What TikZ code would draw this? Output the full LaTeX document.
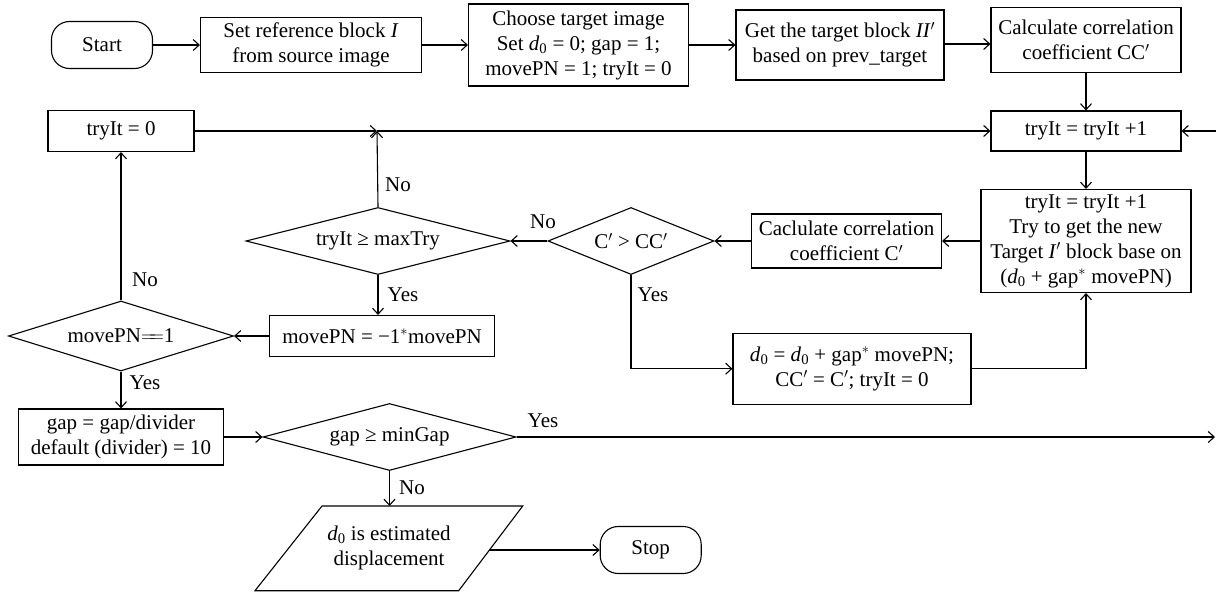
\documentclass[tikz,border=0pt]{standalone}
\usepackage{fontspec}
\setmainfont{Liberation Serif}
\usetikzlibrary{arrows.meta,shapes.geometric}
\begin{document}
\begin{tikzpicture}[x=1pt,y=-1pt,
  every node/.style={font=\fontsize{21}{25}\selectfont, align=center, inner sep=0pt},
  box/.style={draw, line width=1.1pt, rectangle},
  term/.style={draw, line width=1.1pt, rectangle, rounded corners=18pt},
  dia/.style={draw, line width=1.1pt, diamond, aspect=4},
  conn/.style={line width=1.1pt, -{Straight Barb[length=6pt,width=11pt]}},
  plain/.style={line width=1.1pt}]
\fill[white] (0,0) rectangle (1216,594);
\useasboundingbox (0,0) rectangle (1216,594);

% top row
\node[term, minimum width=101pt, minimum height=47pt] (start) at (102,45) {Start};
\node[box, minimum width=221pt, minimum height=55pt] (setref) at (311,45) {Set reference block \textit{I}\\from source image};
\node[box, minimum width=220pt, minimum height=82pt] (choose) at (578.5,45) {Choose target image\\Set \textit{d}\textsubscript{0} = 0; gap = 1;\\movePN = 1; tryIt = 0};
\node[box, minimum width=208pt, minimum height=70pt] (get) at (840,45) {Get the target block \textit{II}$'$\\based on prev\_target};
\node[box, minimum width=190pt, minimum height=65pt] (calc) at (1086,40) {Calculate correlation\\coefficient CC$'$};

% second row
\node[box, minimum width=146pt, minimum height=41pt] (try0) at (121,131) {tryIt = 0};
\node[box, minimum width=190pt, minimum height=40pt] (tryinc) at (1086,131) {tryIt = tryIt +1};
\coordinate (J) at (377,131);
\coordinate (R1) at (1216,131);

% third row
\node[box, minimum width=210pt, minimum height=103pt] (big) at (1086,241) {tryIt = tryIt +1\\Try to get the new\\Target \textit{I}$'$ block base on\\(\textit{d}\textsubscript{0} + gap$^*$ movePN)};
\node[box, minimum width=190pt, minimum height=54pt] (calcC) at (846.5,241) {Caclulate correlation\\coefficient C$'$};
\node[dia, minimum width=166pt, minimum height=67pt] (dC) at (631,241) {C$'$ > CC$'$};
\node[dia, minimum width=264pt, minimum height=67pt] (dmax) at (378,241) {tryIt ≥ maxTry};

% fourth row
\node[dia, minimum width=225pt, minimum height=70pt] (dmove) at (121,336) {movePN$=\!\!=$1};
\node[box, minimum width=225pt, minimum height=41pt] (neg) at (382,336) {movePN = −1$^*$movePN};
\node[box, minimum width=238pt, minimum height=71pt] (dbox) at (852,368.7) {\textit{d}\textsubscript{0} = \textit{d}\textsubscript{0} + gap$^*$ movePN;\\CC$'$ = C$'$; tryIt = 0};

% fifth row
\node[box, minimum width=205pt, minimum height=56pt] (gapbox) at (121,437) {gap = gap/divider\\default (divider) = 10};
\node[dia, minimum width=253pt, minimum height=67pt] (dgap) at (389.5,437) {gap ≥ minGap};
\coordinate (R2) at (1215,437);

% bottom
\draw[plain] (255,590.7) -- (322,506) -- (522.7,506) -- (458.7,590.7) -- cycle;
\node (para) at (389,548) {\textit{d}\textsubscript{0} is estimated\\displacement};
\coordinate (paraT) at (389.5,506);
\coordinate (paraR) at (489,550);
\node[term, minimum width=101pt, minimum height=47pt] (stop) at (650.7,550) {Stop};

% connectors
\draw[conn] (start) -- (setref);
\draw[conn] (setref) -- (choose);
\draw[conn] (choose) -- (get);
\draw[conn] (get.east |- 0,44) -- (calc.west |- 0,44);
\draw[conn] (calc) -- (tryinc);
\draw[conn] (tryinc) -- (big);
\draw[conn] (big) -- (calcC);
\draw[conn] (calcC) -- (dC);
\draw[conn] (dC) -- (dmax);
\draw[conn] (dmax.north) -- (J);
\draw[conn] (try0.east) -- (J);
\draw[conn] (J) -- (tryinc.west);
\draw[conn] (R1) -- (tryinc.east);
\draw[conn] (dmax.south) -- (dmax.south |- neg.north);
\draw[conn] (neg) -- (dmove);
\draw[conn] (dmove) -- (try0);
\draw[conn] (dmove) -- (gapbox);
\draw[conn] (gapbox) -- (dgap);
\draw[conn] (dgap.east) -- (R2);
\draw[conn] (dgap.south) -- (paraT);
\draw[conn] (paraR) -- (stop.west);
\draw[conn] (dC.south) |- (dbox.west);
\draw[conn] (dbox.east) -| (big.south);

% labels
\node (l1) at (398,185) {No};
\node (l2) at (543,222) {No};
\node (l3) at (145,280) {No};
\node (l4) at (403,295) {Yes};
\node (l5) at (653,295) {Yes};
\node (l6) at (145,383) {Yes};
\node (l7) at (543,421) {Yes};
\node (l8) at (412,488) {No};
\end{tikzpicture}
\end{document}
